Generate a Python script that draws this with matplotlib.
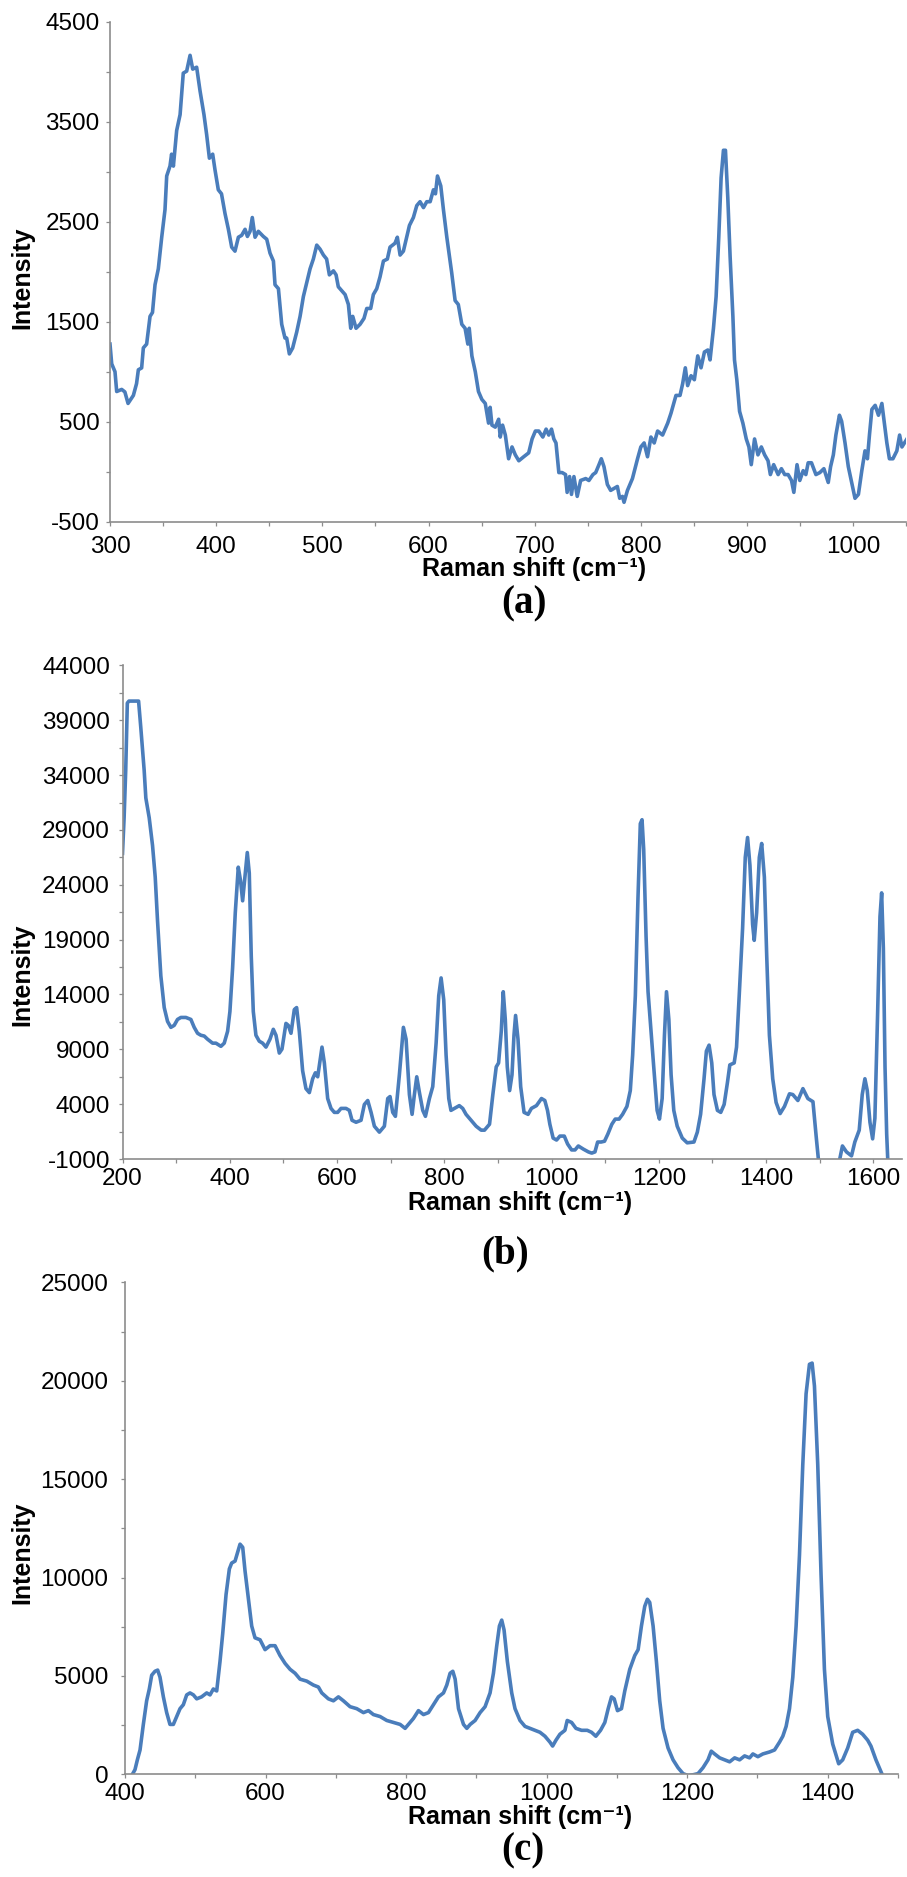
import matplotlib
matplotlib.use("Agg")
import matplotlib.pyplot as plt
import numpy as np

plt.rcParams['axes.unicode_minus'] = False
plt.rcParams['font.family'] = ['Liberation Sans', 'DejaVu Sans']

# ---------------- data: panel (a) ----------------
a_shift = [300, 301.6, 304.7, 306.3, 311, 314, 317, 322, 325, 326.7, 329.8, 331.4, 334.5, 337.7, 340, 342.4,
           345.5, 348.7, 351.8, 353.4, 356.5, 358, 359.7, 362.8, 366, 369, 372.2, 375.4, 377.9, 381.6, 384.8,
           388.5, 391, 393.6, 396.7, 398.9, 402, 405, 408.3, 411.5, 414.6, 417.7, 420.9, 424, 427.2, 429.4,
           431.9, 434, 436.6, 439.7, 444.4, 447.6, 450.7, 453.9, 455.4, 458.6, 461.7, 464.8, 466.4, 468.9,
           472, 475.8, 479, 482.1, 485.2, 488.4, 491.5, 494.7, 497.8, 501, 504, 506.6, 510.4, 512.9, 515,
           518.2, 521.4, 524.5, 526.7, 528.6, 531.7, 535.5, 539.2, 541.8, 545.5, 548, 551.2, 554.3, 557.5,
           561.2, 563.7, 568.4, 570.6, 573.2, 576.3, 579.4, 582, 585.7, 588.9, 592, 595.2, 598.3, 601.5,
           604.6, 606.5, 608.4, 611.5, 614, 617.2, 620.3, 621.8, 625, 628, 631.3, 634.4, 637, 638.3, 640.8,
           644, 647, 650.2, 653.4, 656.5, 658, 659.7, 662.8, 666, 667.5, 669.7, 672.3, 675.4, 678.6, 681.7,
           685, 689.6, 694.3, 697.5, 700.6, 703.8, 707.6, 710.7, 713.2, 715.8, 718, 720, 722.7, 725.8, 729,
           730.5, 732.8, 734.6, 736.9, 740, 743.2, 748, 751, 754.8, 757.4, 760.5, 762.7, 765.2, 768.4, 771.5,
           774.7, 777.8, 780, 782.6, 784.1, 787.3, 792, 796.8, 799.9, 803, 806.2, 809.4, 812.5, 815.7, 820.4,
           825.2, 828.3, 833, 836.8, 839.3, 841.8, 844, 847.2, 850.3, 853.5, 856.6, 859.8, 863, 865.1, 868.3,
           870.8, 873.3, 875.5, 877.7, 879.6, 881.8, 884, 886.6, 888.1, 890.3, 892.9, 896, 899.2, 901.7,
           903.9, 907, 910.2, 913.4, 916.5, 919.7, 921.9, 925, 929.2, 932.3, 935.4, 938.6, 941.8, 944, 947,
           949.6, 952.8, 955.3, 957.5, 960.6, 964.8, 968.5, 972.3, 976.4, 978.6, 981.2, 983.6, 986.9, 989,
           992.2, 995.3, 998.5, 1001.6, 1004.8, 1008, 1011, 1013.3, 1015.2, 1017.5, 1020.6, 1023.7, 1026.9,
           1029, 1031.6, 1034, 1037.3, 1041, 1043.6, 1045.8, 1050.5]
a_intensity = [1278, 1081, 1002, 804, 825, 800, 685, 765, 883, 1021, 1040, 1240, 1278, 1555, 1594, 1871,
               2030, 2346, 2622, 2958, 3057, 3176, 3057, 3413, 3571, 3986, 4006, 4164, 4026, 4045, 3808,
               3571, 3373, 3136, 3176, 3018, 2820, 2780, 2583, 2425, 2247, 2207, 2346, 2365, 2425, 2354,
               2405, 2543, 2346, 2405, 2354, 2326, 2187, 2108, 1871, 1832, 1476, 1338, 1338, 1180,
               1239, 1397, 1555, 1753, 1891, 2030, 2128, 2267, 2227, 2168, 2128, 1970, 2010, 1970, 1851,
               1812, 1773, 1674, 1436, 1555, 1436, 1476, 1535, 1634, 1634, 1773, 1832, 1950, 2108,
               2128, 2247, 2286, 2346, 2168, 2207, 2346, 2464, 2543, 2662, 2701, 2642, 2701, 2701,
               2820, 2780, 2958, 2859, 2622, 2346, 2108, 1990, 1713, 1674, 1476, 1436, 1278, 1436, 1160,
               1002, 804, 725, 685, 488, 646, 468, 448, 527, 349, 468, 369, 132, 250, 171,
               112, 152, 191, 330, 409, 409, 349, 428, 369, 428, 330, 290, -6, -6, -26,
               -204, -46, -224, -46, -244, -85, -66, -85, -26, -6, 73, 132, 53, -125, -184,
               -164, -145, -263, -244, -303, -184, -66, 132, 250, 290, 152, 349, 290, 409, 369,
               488, 587, 765, 765, 883, 1041, 863, 962, 922, 1160, 1041, 1199, 1219, 1120, 1436,
               1753, 2346, 2939, 3215, 3215, 2741, 2148, 1555, 1120, 922, 606, 488, 330, 250,
               73, 330, 171, 250, 171, 112, -26, 73, -26, 33, -26, -26, -85, -204, 73,
               -85, 13, -26, 92, 92, -26, -6, 33, -105, 53, 171, 369, 567, 507,
               290, 53, -105, -263, -224, 13, 211, 132, 369, 626, 666, 567, 685,
               507, 290, 132, 132, 211, 369, 250, 330]

# ---------------- data: panel (b) ----------------
b_shift = [200, 203, 206, 209, 212, 230, 234, 240.4, 243.5, 249.8, 256, 261, 265.3, 271.5, 277.8, 284,
           290.2, 296.4, 302.6, 308.9, 318.2, 327.5, 333.7, 340, 346.2, 352.4, 358.6, 368, 374.2, 383.5,
           389.7, 396, 400.3, 405.3, 410.3, 415.9, 420.2, 424, 428.3, 432.7, 436.4, 440.1, 443.9, 448.8,
           455, 461.3, 467.5, 475, 481.2, 486.2, 492.4, 497.4, 504.8, 509.2, 514.2, 520.4, 524.7, 529.7,
           535.9, 542.1, 548.4, 554.6, 559.6, 564, 572, 576.4, 582.6, 588.8, 595, 601.2, 607.5, 616.8,
           623, 628, 635.5, 644.8, 651, 657.3, 663.5, 669.7, 679, 688.3, 694.6, 698.9, 703.9, 708.9,
           716.3, 723.8, 728.8, 735, 740, 744.3, 748.7, 753.7, 759.9, 764.9, 772.3, 778.5, 784.8, 789.7,
           794.1, 799, 803.4, 808.4, 812.5, 819, 828, 834.4, 840.6, 850, 859.4, 868.8, 875, 884.4,
           890.6, 896.9, 901.3, 906.3, 910, 913.8, 917.5, 921.9, 926.3, 930, 933, 937.5, 942.5, 948.8,
           956.3, 962.5, 971.9, 981.3, 987.5, 992.5, 996.9, 1003, 1009.4, 1015.6, 1023.8, 1030, 1037.5,
           1043.8, 1050, 1059.4, 1068.8, 1075, 1081, 1086, 1092.5, 1098.8, 1105, 1112.5, 1118.8, 1126,
           1132.5, 1140.6, 1146.9, 1151.3, 1156.3, 1161.3, 1165.6, 1168.8, 1171.9, 1176.3, 1180, 1184.4,
           1190.6, 1196.9, 1201.3, 1206.3, 1210.6, 1214.4, 1218.8, 1223, 1228, 1234.4, 1243.8, 1253,
           1265.6, 1271.9, 1278, 1284.4, 1288.8, 1293.8, 1298.8, 1303, 1309.4, 1315.6, 1321.9, 1328,
           1332.5, 1340.6, 1345, 1350, 1356.3, 1361.3, 1365.6, 1370, 1375, 1378, 1382.5, 1387.5, 1391.9,
           1396.9, 1401.3, 1406.3, 1412.5, 1418.8, 1426.3, 1434.4, 1443.8, 1450, 1459.4, 1468.8, 1478,
           1487.5, 1493.8, 1500, 1515, 1532.5, 1542.5, 1550, 1559.4, 1565.6, 1573.8, 1579.4, 1584.4,
           1588.8, 1593.8, 1598.8, 1603, 1608, 1612.5, 1615.6, 1618.8, 1621.9, 1625, 1628, 1640]
b_intensity = [26871, 30117, 34444, 40574, 40755, 40755, 38411, 34444, 31920, 30117, 27593, 24708, 20741,
               15693, 12808, 11546, 11005, 11185, 11726, 11907, 11907, 11726, 11005, 10464, 10284, 10212,
               9923, 9563, 9563, 9274, 9563, 10645, 12448, 16414, 21463, 25609, 24347, 22544, 24708,
               26943, 25069, 17496, 12448, 10284, 9743, 9563, 9203, 9923, 10825, 10284, 8661, 9022,
               11366, 11185, 10464, 12628, 12808, 10645, 7039, 5416, 5055, 6317, 6858, 6497, 9203, 7760,
               4514, 3613, 3252, 3252, 3613, 3613, 3433, 2531, 2351, 2531, 3973, 4334, 3252, 1990, 1449,
               1990, 4514, 4695, 3252, 2891, 6677, 11005, 9923, 4875, 3072, 4875, 6497, 5055, 3433, 2891,
               4514, 5596, 9563, 13890, 15513, 13529, 8481, 4514, 3433, 3613, 3866, 3613, 3072, 2531,
               1990, 1630, 1630, 2170, 4875, 7400, 7760, 10645, 14251, 11726, 7400, 5236, 6677, 10284,
               12087, 9923, 5596, 3252, 3072, 3613, 3866, 4514, 4334, 3433, 2170, 908, 728, 1089, 1089,
               368, -173, -173, 188, -101, -354, -462, -354, 548, 548, 620, 1269, 2170, 2639, 2639, 3072,
               3793, 5236, 8481, 13890, 22905, 29576, 29937, 27232, 19299, 14251, 11366, 7400, 3433, 2639,
               4514, 10284, 14251, 11726, 6677, 3433, 1990, 908, 476, 548, 1449, 3072, 6317, 8841, 9383,
               7760, 4875, 3433, 3252, 3973, 5957, 7580, 7760, 9203, 13890, 20020, 26511, 28314, 25790,
               20381, 18939, 21463, 26511, 27773, 24708, 17496, 10284, 6317, 4154, 3144, 3793, 4947, 4875,
               4334, 5416, 4514, 4226, 908, -2200, -3500, -2200, 188, -354, -714, 548, 1630, 4875, 6317,
               5236, 2351, 836, 2711, 12087, 21102, 23265, 18218, 7400, 1269, -2200, -4000]

# ---------------- data: panel (c) ----------------
c_shift = [405, 409.5, 414.2, 417.6, 421.4, 426.1, 430.8, 434.6, 438, 442.7, 446.5, 449.8, 454.6, 459.3,
           464, 468.8, 473.5, 478.3, 483, 487.8, 492.5, 497.3, 502, 509, 516.3, 521, 525.7, 530.5, 535.2,
           539, 543.8, 548.5, 551.8, 556.6, 559.9, 563.7, 567.5, 570.8, 575.6, 580.3, 585, 592.2, 599.3,
           606.4, 613.5, 620.6, 627.8, 634.9, 642, 649.1, 658.6, 668.1, 675.2, 680, 689.4, 696.6, 703.7,
           710.8, 720.3, 729.8, 739.3, 746.4, 753.5, 763, 772.5, 782, 791.5, 798.6, 803.3, 810.4, 817.6,
           824.7, 831.8, 838.9, 846, 853.2, 857.9, 862.6, 866.5, 869.8, 874.6, 881.7, 886.4, 891.2, 898.2,
           905.3, 912.4, 919.5, 924.3, 929, 932.8, 936.1, 939.4, 944.1, 950.3, 955, 962.1, 969.2, 976.3,
           983.4, 990.5, 997.6, 1004.7, 1008.5, 1013.3, 1018.9, 1026, 1029.3, 1035.5, 1041.7, 1049.7,
           1057.8, 1063.9, 1070, 1076.7, 1082.8, 1087.6, 1092.3, 1096.1, 1100.8, 1106.5, 1111.2, 1118.3,
           1125.4, 1130.2, 1134.9, 1139.6, 1143.4, 1146.7, 1151.5, 1156.2, 1160.9, 1165.7, 1172.8, 1179.9,
           1187, 1194.1, 1201.2, 1208.3, 1215.4, 1222.5, 1229.6, 1234.3, 1239, 1246.2, 1253.3, 1260.4,
           1267.5, 1274.6, 1281.7, 1288.8, 1293.5, 1300.6, 1307.7, 1317.2, 1324.3, 1331.4, 1336.1,
           1340.8, 1345.6, 1350.3, 1355, 1359.8, 1364.5, 1369.2, 1374, 1377.8, 1381.1, 1385.8, 1390.5,
           1395.3, 1400, 1407.1, 1415.6, 1421.3, 1428.4, 1435.5, 1442.6, 1449.7, 1456.8, 1461.5, 1468.6,
           1475.7, 1480.5, 1485]
c_intensity = [-600, -60, 240, 740, 1240, 2540, 3740, 4340, 5040, 5240, 5300, 4940, 3940, 3140, 2540, 2540,
               2940, 3340, 3540, 4040, 4140, 4040, 3840, 3940, 4140, 4040, 4340, 4240, 5740, 7140, 9140,
               10440, 10740, 10840, 11240, 11700, 11540, 10340, 8940, 7540, 6940, 6840, 6340, 6540, 6540,
               6040, 5640, 5340, 5140, 4840, 4740, 4540, 4440, 4140, 3840, 3740, 3940, 3740, 3440, 3340,
               3140, 3240, 3040, 2940, 2740, 2640, 2540, 2340, 2540, 2840, 3240, 3040, 3140, 3540, 3940,
               4140, 4540, 5140, 5240, 4840, 3340, 2540, 2340, 2540, 2740, 3140, 3440, 4140, 5140, 6540,
               7540, 7840, 7340, 5740, 4140, 3340, 2740, 2440, 2340, 2240, 2140, 1940, 1640, 1440, 1740,
               2040, 2240, 2740, 2640, 2340, 2240, 2240, 2140, 1940, 2240, 2640, 3340, 3940, 3840, 3240,
               3340, 4240, 5340, 6040, 6340, 7540, 8540, 8900, 8740, 7540, 5740, 3740, 2340, 1340, 740,
               340, 40, -60, -20, 40, 340, 740, 1180, 1040, 840, 740, 640, 840, 740, 940, 840, 1040, 900,
               1040, 1140, 1240, 1640, 1940, 2440, 3340, 4940, 7540, 11140, 15740, 19340, 20840, 20900,
               19740, 15740, 10140, 5340, 2940, 1540, 540, 740, 1340, 2140, 2240, 2040, 1740, 1440, 740,
               140, -260, -800]

# ---------------- tick settings ----------------
a_ylabels = [-500, 500, 1500, 2500, 3500, 4500]
b_ylabels = [-1000, 4000, 9000, 14000, 19000, 24000, 29000, 34000, 39000, 44000]
c_ylabels = [0, 5000, 10000, 15000, 20000, 25000]
a_xlabels = [300, 400, 500, 600, 700, 800, 900, 1000]
b_xlabels = [200, 400, 600, 800, 1000, 1200, 1400, 1600]
c_xlabels = [400, 600, 800, 1000, 1200, 1400]

W, H = 907, 1877
fig = plt.figure(figsize=(W / 100, H / 100), dpi=100)
fig.patch.set_facecolor('white')

LINE = '#4a7dbb'
SPINE = '#8c8c8c'


def px_axes(l, t, r, b):
    return fig.add_axes([l / W, 1 - b / H, (r - l) / W, (b - t) / H])


def style(ax, xlim, ylim, xmaj, xmin_step, ymaj, ymin_step, xpad, ypad):
    ax.set_xlim(*xlim)
    ax.set_ylim(*ylim)
    for s in ['top', 'right']:
        ax.spines[s].set_visible(False)
    for s in ['left', 'bottom']:
        ax.spines[s].set_color(SPINE)
        ax.spines[s].set_linewidth(1.2)
    ax.set_xticks(xmaj)
    ax.set_xticks(np.arange(xlim[0], xlim[1] + 1, xmin_step), minor=True)
    ax.set_yticks(ymaj)
    ax.set_yticks(np.arange(ylim[0], ylim[1] + 1, ymin_step), minor=True)
    ax.set_xticklabels([str(v) for v in xmaj])
    ax.set_yticklabels([str(v) for v in ymaj])
    ax.tick_params(which='both', direction='out', length=3.0, width=0.9, color=SPINE)
    ax.tick_params(axis='x', which='major', labelsize=17.5, pad=xpad)
    ax.tick_params(axis='y', which='major', labelsize=17.5, pad=ypad)
    for lab in ax.get_xticklabels() + ax.get_yticklabels():
        lab.set_family(['Liberation Sans', 'DejaVu Sans'])


# panel (a)
ax1 = px_axes(110, 21.7, 906.4, 522)
ax1.plot(a_shift, a_intensity, color=LINE, lw=2.6, solid_joinstyle='round')
style(ax1, (300, 1050), (-500, 4500), a_xlabels, 50, a_ylabels, 500, 7.0, 4.5)

# panel (b)
ax2 = px_axes(122.5, 665.5, 901.7, 1159)
ax2.plot(b_shift, b_intensity, color=LINE, lw=2.6, solid_joinstyle='round')
style(ax2, (200, 1653), (-1000, 44000), b_xlabels, 100, b_ylabels, 2500, 3.5, 6.0)

# panel (c)
ax3 = px_axes(125, 1282.4, 898, 1774.4)
ax3.plot(c_shift, c_intensity, color=LINE, lw=2.6, solid_joinstyle='round')
style(ax3, (400, 1500), (0, 25000), c_xlabels, 100, c_ylabels, 2500, 3.5, 9.0)


def ftext(x, y, s, **kw):
    fig.text(x / W, 1 - y / H, s, **kw)


lab_font = dict(family=['Liberation Sans', 'DejaVu Sans'], weight='bold', fontsize=18)
ser_font = dict(family=['Liberation Serif', 'DejaVu Serif'], weight='bold', fontsize=28)

for (yc, xc, yl) in [(278, 534, 569), (975, 520, 1203), (1553, 520, 1817)]:
    ftext(22, yc, 'Intensity', rotation=90, ha='center', va='center', **lab_font)
    ftext(xc, yl, 'Raman shift (cm\u207b\u00b9)', ha='center', va='center', **lab_font)

ftext(524, 604, '(a)', ha='center', va='center', **ser_font)
ftext(505, 1254, '(b)', ha='center', va='center', **ser_font)
ftext(523, 1851, '(c)', ha='center', va='center', **ser_font)

fig.savefig('out.png', dpi=100, facecolor='white')
